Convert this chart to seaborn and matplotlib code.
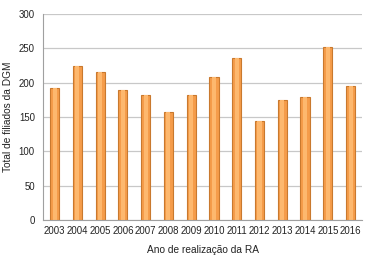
import matplotlib
matplotlib.use("Agg")
import matplotlib.pyplot as plt
import seaborn as sns
import pandas as pd

# Values
anos = ["2003", "2004", "2005", "2006", "2007", "2008", "2009",
        "2010", "2011", "2012", "2013", "2014", "2015", "2016"]
filiados = [192, 225, 216, 190, 182, 157, 182,
            208, 236, 145, 175, 179, 252, 195]
y_ticks = [0, 50, 100, 150, 200, 250, 300]

sns.set_style("white")
plt.rcParams['font.family'] = ['Liberation Sans', 'DejaVu Sans']

df = pd.DataFrame({'ano': anos, 'total': filiados})

fig = plt.figure(figsize=(3.66, 2.62), dpi=100)
ax = fig.add_axes([0.118, 0.16, 0.871, 0.786])

# cylinder-ish bars: base colour plus a lighter stripe in the middle
sns.barplot(data=df, x='ano', y='total', color='#F59C4A', width=0.4,
            edgecolor='#C9792E', linewidth=0.8, saturation=1, ax=ax)
sns.barplot(data=df, x='ano', y='total', color='#FDB86E', width=0.18,
            linewidth=0, saturation=1, ax=ax)

ax.set_ylim(0, 300)
ax.set_xlim(-0.5, 13.5)
ax.set_yticks(y_ticks)
ax.yaxis.grid(True, color='#C8C8C8', linewidth=0.9)
ax.set_axisbelow(True)

for side in ['top', 'right']:
    ax.spines[side].set_visible(False)
ax.spines['left'].set_color('#A0A0A0')
ax.spines['bottom'].set_color('#A0A0A0')
ax.spines['left'].set_linewidth(0.8)
ax.spines['bottom'].set_linewidth(0.8)

ax.tick_params(axis='both', labelsize=6.9, colors='#222222', length=0, pad=4)
ax.tick_params(axis='y', length=4, color='#A0A0A0', pad=2)
ax.set_xlabel('Ano de realização da RA', fontsize=7.3, color='#222222', labelpad=7)
ax.set_ylabel('Total de filiados da DGM', fontsize=7.3, color='#222222', labelpad=4)

fig.savefig('out.png', dpi=100)
